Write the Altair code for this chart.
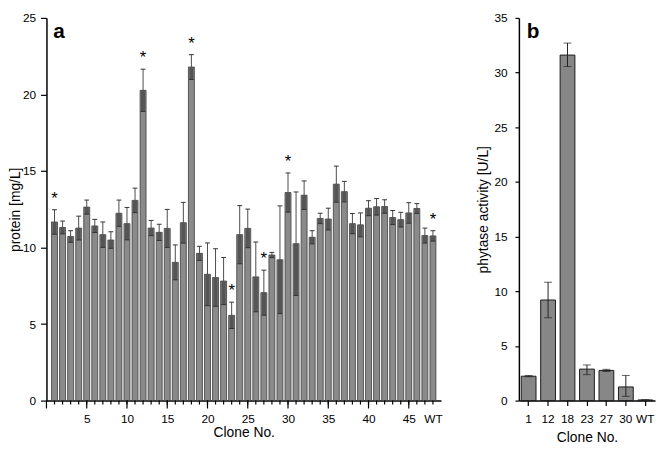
import altair as alt
import pandas as pd

# ---------------- data ----------------
# Panel a: protein per clone (1..47, then WT)
clone_pos_a = list(range(1, 49))
clone_names_a = [str(i) for i in range(1, 48)] + ["WT"]
protein = [11.67, 11.31, 10.72, 11.27, 12.64, 11.41, 10.84, 10.49, 12.24, 11.56,
           13.08, 20.27, 11.27, 10.99, 11.25, 9.03, 11.62, 21.79, 9.62, 8.25,
           8.04, 7.81, 5.57, 10.84, 11.25, 8.08, 7.05, 9.51, 9.20, 13.59,
           10.25, 13.42, 10.67, 11.90, 11.86, 14.14, 13.65, 11.56, 11.48, 12.57,
           12.66, 12.68, 11.96, 11.82, 12.26, 12.55, 10.78, 10.76]
protein_err = [0.80, 0.42, 0.38, 0.78, 0.46, 0.43, 0.83, 0.54, 0.86, 1.06,
               0.80, 1.38, 0.50, 0.53, 1.24, 1.14, 1.33, 0.81, 0.46, 2.05,
               1.88, 1.54, 0.86, 1.90, 1.26, 2.28, 1.47, 0.17, 3.52, 1.28,
               3.38, 0.93, 0.43, 0.34, 0.71, 1.18, 0.67, 0.66, 0.78, 0.49,
               0.54, 0.44, 0.46, 0.48, 0.67, 0.32, 0.49, 0.34]
starred_a = ["1", "12", "18", "23", "27", "30", "WT"]
x_minor_ticks_a = list(range(1, 49))
x_major_ticks_a = list(range(0, 46, 5))
x_label_values_a = [5, 10, 15, 20, 25, 30, 35, 40, 45, 48]
x_label_texts_a = ["5", "10", "15", "20", "25", "30", "35", "40", "45", "WT"]
y_tick_values_a = [0, 2.5, 5, 7.5, 10, 12.5, 15, 17.5, 20, 22.5, 25]

# Panel b: phytase activity
clones_b = ["1", "12", "18", "23", "27", "30", "WT"]
phytase = [2.23, 9.20, 31.60, 2.88, 2.76, 1.25, 0.06]
phytase_lo = [2.18, 7.57, 30.56, 2.37, 2.66, 0.39, 0.04]
phytase_hi = [2.30, 10.83, 32.70, 3.26, 2.86, 2.30, 0.08]
y_tick_values_b = [0, 2.5, 5, 7.5, 10, 12.5, 15, 17.5, 20, 22.5, 25, 27.5, 30, 32.5, 35]

FONT = "Liberation Sans"

df_a = pd.DataFrame({
    "pos": clone_pos_a,
    "clone": clone_names_a,
    "value": protein,
    "err": protein_err,
})
df_a["lo"] = df_a["value"] - df_a["err"]
df_a["hi"] = df_a["value"] + df_a["err"]
df_a["star"] = df_a["clone"].isin(starred_a)

df_b = pd.DataFrame({"clone": clones_b, "value": phytase,
                     "lo": phytase_lo, "hi": phytase_hi})

label_expr_a = " : ".join(
    [f"datum.value == {k} ? '{v}'" for k, v in zip(x_label_values_a, x_label_texts_a)]) + " : ''"

W_A, H = 400, 388
W_B = 138

xa_scale = alt.Scale(domain=[0, 49], nice=False, zero=False, padding=0)
xa = alt.X("x0:Q", scale=xa_scale,
           axis=alt.Axis(values=x_label_values_a, labelExpr=label_expr_a,
                         labelOverlap=False, ticks=False, tickSize=0, labelPadding=13,
                         title="Clone No.", titlePadding=1, labelFlush=False))
ya_scale = alt.Scale(domain=[0, 25], nice=False)
ya_axis = alt.Axis(values=y_tick_values_a,
                   labelExpr="datum.value % 5 == 0 ? datum.label : ''",
                   tickSize=6, labelPadding=5, title="protein [mg/L]",
                   titlePadding=0, labelOverlap=False)

base_a = alt.Chart(df_a).transform_calculate(
    x0="datum.pos - 0.37", x1="datum.pos + 0.37",
    i0="datum.pos - 0.26", i1="datum.pos + 0.26",
    c0="datum.pos - 0.30", c1="datum.pos + 0.30")

bars_a = base_a.mark_rect(fill="#8a8a8a", stroke="#3c3c3c", strokeWidth=0.8).encode(
    x=xa, x2="x1:Q", y=alt.Y("value:Q", scale=ya_scale, axis=ya_axis),
    y2=alt.datum(0))
inner_a = base_a.mark_rect(color="#555555").encode(
    x="i0:Q", x2="i1:Q", y="lo:Q", y2="value:Q")
whisk_a = base_a.mark_rule(color="#4a4a4a", strokeWidth=1).encode(
    x="pos:Q", y="value:Q", y2="hi:Q")
cap_hi_a = base_a.mark_rule(color="#333333", strokeWidth=1).encode(
    x="c0:Q", x2="c1:Q", y="hi:Q")
cap_lo_a = base_a.mark_rule(color="#333333", strokeWidth=1).encode(
    x="c0:Q", x2="c1:Q", y="lo:Q")
stars_a = base_a.transform_filter("datum.star").mark_text(
    text="*", fontSize=17, font=FONT, dy=-6, baseline="alphabetic", color="black").encode(
    x="pos:Q", y="hi:Q")
minor_ticks_a = alt.Chart(pd.DataFrame({"pos": x_minor_ticks_a})).mark_rule(
    color="black", strokeWidth=1.2).encode(
    x="pos:Q", y=alt.value(H), y2=alt.value(H + 4))
major_ticks_a = alt.Chart(pd.DataFrame({"pos": x_major_ticks_a})).mark_rule(
    color="black", strokeWidth=1.2).encode(
    x="pos:Q", y=alt.value(H), y2=alt.value(H + 8))
letter_a = alt.Chart(pd.DataFrame({"t": ["a"]})).mark_text(
    text="a", fontSize=21, fontWeight="bold", font=FONT, align="left",
    baseline="alphabetic", color="black").encode(x=alt.value(7), y=alt.value(20))

panel_a = alt.layer(bars_a, inner_a, whisk_a, cap_hi_a, cap_lo_a, stars_a,
                    minor_ticks_a, major_ticks_a, letter_a).properties(width=W_A, height=H)

# ---- panel b ----
xb = alt.X("clone:N", sort=clones_b,
           scale=alt.Scale(paddingInner=0.24, paddingOuter=0.12),
           axis=alt.Axis(labelAngle=0, tickSize=5, labelPadding=8,
                         title="Clone No.", titlePadding=6))
xb_plain = alt.X("clone:N", sort=clones_b)
yb = alt.Y("value:Q", scale=alt.Scale(domain=[0, 35], nice=False),
           axis=alt.Axis(values=y_tick_values_b,
                         labelExpr="datum.value % 5 == 0 ? datum.label : ''",
                         tickSize=4, labelPadding=8, title="phytase activity [U/L]",
                         titlePadding=3, labelOverlap=False))
base_b = alt.Chart(df_b)
bars_b = base_b.mark_bar(fill="#878787", stroke="#1a1a1a", strokeWidth=1).encode(x=xb, y=yb)
whisk_b = base_b.mark_rule(color="#222222", strokeWidth=1).encode(
    x=xb_plain, y="lo:Q", y2="hi:Q")
cap_hi_b = base_b.mark_tick(orient="horizontal", size=8, thickness=1, color="#222222").encode(
    x=xb_plain, y="hi:Q")
cap_lo_b = base_b.mark_tick(orient="horizontal", size=8, thickness=1, color="#222222").encode(
    x=xb_plain, y="lo:Q")
letter_b = alt.Chart(pd.DataFrame({"t": ["b"]})).mark_text(
    text="b", fontSize=21, fontWeight="bold", font=FONT, align="left",
    baseline="alphabetic", color="black").encode(x=alt.value(8), y=alt.value(20))

panel_b = alt.layer(bars_b, whisk_b, cap_hi_b, cap_lo_b, letter_b).properties(
    width=W_B, height=H)

chart = alt.hconcat(panel_a, panel_b, spacing=34).properties(
    padding={"top": 0, "left": 0, "right": 0, "bottom": 0}
).configure_axis(
    labelFont=FONT, titleFont=FONT, labelFontSize=12, titleFontSize=14,
    labelColor="black", titleColor="black", domainColor="black",
    tickColor="black", domainWidth=1.5, tickWidth=1.2, grid=False,
    titleFontWeight="normal", labelOverlap=False
).configure_view(stroke="transparent")

chart.save("out.html", embed_options={"renderer": "svg", "actions": False})
